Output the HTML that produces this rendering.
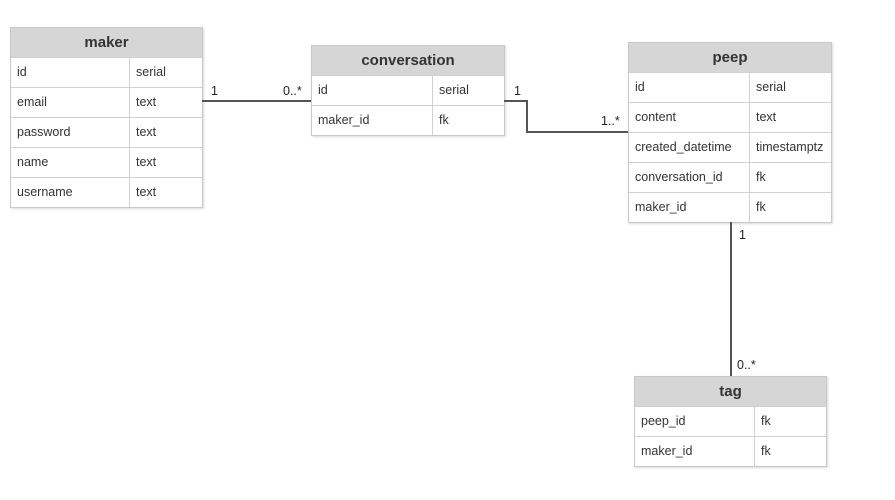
<!DOCTYPE html>
<html><head><style>
body{margin:0;width:895px;height:500px;background:#fff;font-family:"Liberation Sans",sans-serif;position:relative;overflow:hidden}
.t{position:absolute;border:1px solid #c8c8c8;background:#fff;box-shadow:1px 1px 2px rgba(0,0,0,.15)}
.h{height:29px;background:#d6d6d6;text-align:center;font-weight:bold;font-size:15px;line-height:29px;color:#333}
.r{height:29px;border-top:1px solid #d0d0d0;display:flex;font-size:12.5px;line-height:29px;color:#333}
.r div{padding-left:6px}
.r div:first-child{border-right:1px solid #d0d0d0}
.l{position:absolute;font-size:12.5px;color:#222}
</style></head><body>
<div class="t" style="left:10px;top:27px;width:191px">
<div class="h">maker</div>
<div class="r"><div style="width:112px">id</div><div>serial</div></div>
<div class="r"><div style="width:112px">email</div><div>text</div></div>
<div class="r"><div style="width:112px">password</div><div>text</div></div>
<div class="r"><div style="width:112px">name</div><div>text</div></div>
<div class="r"><div style="width:112px">username</div><div>text</div></div>
</div>
<div class="t" style="left:311px;top:45px;width:192px">
<div class="h">conversation</div>
<div class="r"><div style="width:114px">id</div><div>serial</div></div>
<div class="r"><div style="width:114px">maker_id</div><div>fk</div></div>
</div>
<div class="t" style="left:628px;top:42px;width:202px">
<div class="h">peep</div>
<div class="r"><div style="width:114px">id</div><div>serial</div></div>
<div class="r"><div style="width:114px">content</div><div>text</div></div>
<div class="r"><div style="width:114px">created_datetime</div><div>timestamptz</div></div>
<div class="r"><div style="width:114px">conversation_id</div><div>fk</div></div>
<div class="r"><div style="width:114px">maker_id</div><div>fk</div></div>
</div>
<div class="t" style="left:634px;top:376px;width:191px">
<div class="h">tag</div>
<div class="r"><div style="width:113px">peep_id</div><div>fk</div></div>
<div class="r"><div style="width:113px">maker_id</div><div>fk</div></div>
</div>
<svg width="895" height="500" style="position:absolute;left:0;top:0" fill="none" stroke="#555" stroke-width="2">
<path d="M202 101H311"/>
<path d="M504 101H527V132H628"/>
<path d="M731 222V376"/>
</svg>
<div class="l" style="left:211px;top:84px">1</div>
<div class="l" style="left:283px;top:84px">0..*</div>
<div class="l" style="left:514px;top:84px">1</div>
<div class="l" style="left:601px;top:114px">1..*</div>
<div class="l" style="left:739px;top:228px">1</div>
<div class="l" style="left:737px;top:358px">0..*</div>
</body></html>
